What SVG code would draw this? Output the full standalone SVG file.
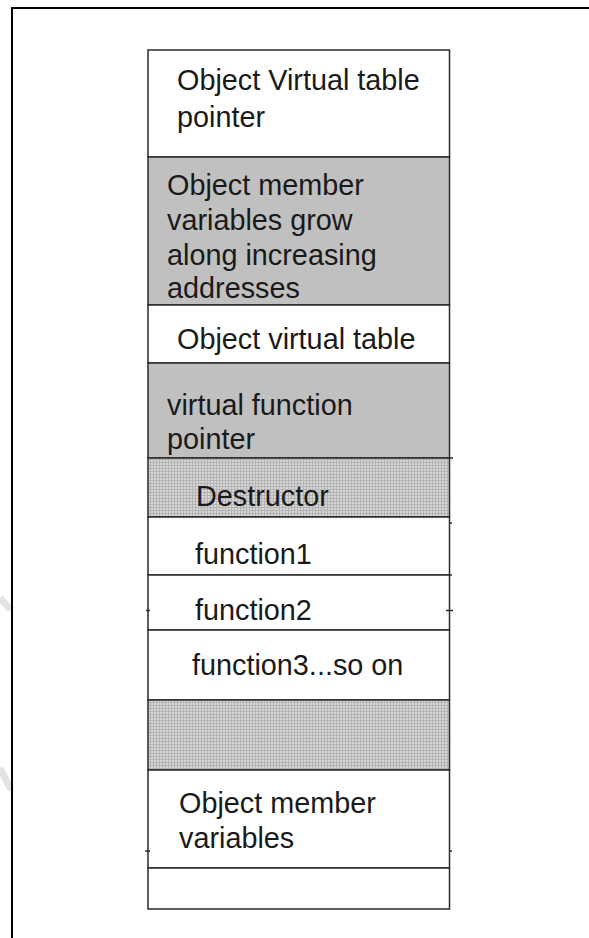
<svg xmlns="http://www.w3.org/2000/svg" width="589" height="938" viewBox="0 0 589 938">
<defs>
<pattern id="dots" width="3" height="3" patternUnits="userSpaceOnUse">
<rect width="3" height="3" fill="#D6D6D6"/>
<rect width="3" height="1" fill="#B4B4B4"/>
<rect width="1" height="3" fill="#B4B4B4"/>
</pattern>
</defs>
<style>
.cell{stroke:#2a2a2a;stroke-width:1.5}
.w{fill:#FFFFFF}
.g{fill:#C0C0C0}
.d{fill:url(#dots)}
text{font-family:"Liberation Sans",Arial,sans-serif;font-size:28.8px;fill:#1a1a1a}
.tick{stroke:#2a2a2a;stroke-width:1.5}
</style>
<rect width="589" height="938" fill="#FFFFFF"/>
<g id="watermark" stroke="#E4E4E4" stroke-width="7" fill="none">
<line x1="0" y1="598" x2="11" y2="610"/>
<line x1="0" y1="768" x2="11" y2="790"/>
</g>
<g id="frame" fill="none" stroke="#000" stroke-width="2">
<polyline points="12,938 12,8 589,8"/>
</g>
<g id="n1"><rect class="cell w" x="148" y="50" width="301.5" height="107"/>
<text x="177" y="90">Object Virtual table</text><text x="177" y="127">pointer</text></g>
<g id="n2"><rect class="cell g" x="148" y="157" width="301.5" height="148"/>
<text x="167" y="195">Object member</text><text x="167" y="230">variables grow</text><text x="167" y="265">along increasing</text><text x="167" y="298">addresses</text></g>
<g id="n3"><rect class="cell w" x="148" y="305" width="301.5" height="58"/>
<text x="177" y="349">Object virtual table</text></g>
<g id="n4"><rect class="cell g" x="148" y="363" width="301.5" height="95"/>
<text x="167" y="415">virtual function</text><text x="167" y="449">pointer</text></g>
<g id="n5"><rect class="cell d" x="148" y="458" width="301.5" height="59"/>
<text x="196" y="506">Destructor</text></g>
<g id="n6"><rect class="cell w" x="148" y="517" width="301.5" height="58"/>
<text x="195" y="564">function1</text></g>
<g id="n7"><rect class="cell w" x="148" y="575" width="301.5" height="55"/>
<text x="195" y="620">function2</text></g>
<g id="n8"><rect class="cell w" x="148" y="630" width="301.5" height="70"/>
<text x="192" y="675">function3...so on</text></g>
<g id="n9"><rect class="cell d" x="148" y="700" width="301.5" height="70"/></g>
<g id="n10"><rect class="cell w" x="148" y="770" width="301.5" height="98"/>
<text x="179" y="813">Object member</text><text x="179" y="848">variables</text></g>
<g id="n11"><rect class="cell w" x="148" y="868" width="301.5" height="41"/></g>
<g id="connectors" class="tick">
<line x1="449" y1="458" x2="453" y2="458"/>
<line x1="449" y1="523" x2="452" y2="523"/>
<line x1="449" y1="575" x2="452" y2="575"/>
<line x1="446" y1="610.5" x2="453" y2="610.5"/>
<line x1="146" y1="610.5" x2="150" y2="610.5"/>
<line x1="449" y1="851" x2="452" y2="851"/>
<line x1="145" y1="851" x2="150" y2="851"/>
</g>
</svg>
